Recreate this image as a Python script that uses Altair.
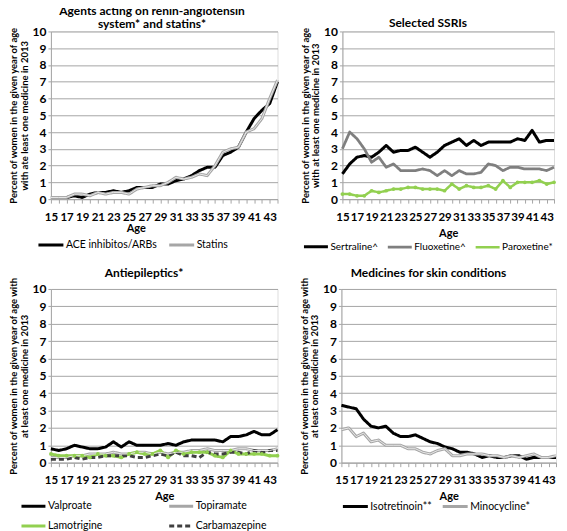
import altair as alt
import pandas as pd

ages = list(range(15, 45))

# Panel 1
p1_names = ["ACE inhibitos/ARBs", "Statins"]
ace = [0.1, 0.1, 0.1, 0.2, 0.1, 0.3, 0.4, 0.4, 0.5, 0.4, 0.5, 0.7, 0.7, 0.7, 0.9,
       0.9, 1.1, 1.2, 1.4, 1.7, 1.9, 1.9, 2.6, 2.8, 3.1, 4.0, 4.8, 5.3, 5.7, 7.0]
statins = [0.1, 0.1, 0.1, 0.3, 0.3, 0.2, 0.4, 0.3, 0.4, 0.4, 0.3, 0.6, 0.7, 0.8, 0.8,
           1.0, 1.3, 1.2, 1.3, 1.5, 1.4, 2.0, 2.8, 3.0, 3.1, 4.0, 4.2, 4.8, 6.0, 7.1]

# Panel 2
p2_names = ["Sertraline^", "Fluoxetine^", "Paroxetine*"]
sertraline = [1.5, 2.1, 2.5, 2.6, 2.5, 2.8, 3.2, 2.8, 2.9, 2.9, 3.1, 2.8, 2.5, 2.8, 3.2,
              3.4, 3.6, 3.2, 3.5, 3.2, 3.4, 3.4, 3.4, 3.4, 3.6, 3.5, 4.1, 3.4, 3.5, 3.5]
fluoxetine = [3.0, 4.0, 3.6, 3.0, 2.2, 2.5, 1.9, 2.1, 1.7, 1.7, 1.7, 1.8, 1.7, 1.4, 1.7,
              1.4, 1.7, 1.5, 1.5, 1.6, 2.1, 2.0, 1.7, 1.9, 1.9, 1.8, 1.8, 1.8, 1.7, 1.9]
paroxetine = [0.3, 0.3, 0.2, 0.2, 0.5, 0.4, 0.5, 0.6, 0.6, 0.7, 0.7, 0.6, 0.6, 0.6, 0.5,
              0.9, 0.6, 0.8, 0.7, 0.7, 0.8, 0.6, 1.1, 0.7, 1.0, 1.0, 1.0, 1.1, 0.9, 1.0]

# Panel 3
p3_names = ["Valproate", "Topiramate", "Lamotrigine", "Carbamazepine"]
valproate = [0.8, 0.7, 0.8, 1.0, 0.9, 0.8, 0.8, 0.9, 1.2, 0.9, 1.2, 1.0, 1.0, 1.0, 1.0,
             1.1, 1.0, 1.2, 1.3, 1.3, 1.3, 1.3, 1.2, 1.5, 1.5, 1.6, 1.8, 1.6, 1.6, 1.9]
topiramate = [0.3, 0.3, 0.3, 0.4, 0.4, 0.5, 0.5, 0.5, 0.6, 0.5, 0.5, 0.6, 0.6, 0.5, 0.6,
              0.5, 0.6, 0.6, 0.7, 0.7, 0.8, 0.7, 0.7, 0.7, 0.8, 0.8, 0.7, 0.7, 0.7, 0.8]
lamotrigine = [0.5, 0.4, 0.4, 0.4, 0.4, 0.3, 0.5, 0.4, 0.4, 0.3, 0.5, 0.6, 0.5, 0.5, 0.7,
               0.3, 0.7, 0.5, 0.6, 0.6, 0.6, 0.4, 0.3, 0.7, 0.5, 0.5, 0.5, 0.5, 0.4, 0.4]
carbamazepine = [0.2, 0.2, 0.2, 0.3, 0.2, 0.3, 0.3, 0.4, 0.4, 0.4, 0.4, 0.3, 0.3, 0.4, 0.5,
                 0.4, 0.6, 0.4, 0.4, 0.3, 0.6, 0.5, 0.5, 0.6, 0.6, 0.5, 0.7, 0.6, 0.7, 0.7]

# Panel 4
p4_names = ["Isotretinoin**", "Minocycline*"]
isotretinoin = [3.3, 3.2, 3.1, 2.5, 2.1, 2.0, 2.1, 1.7, 1.5, 1.5, 1.6, 1.4, 1.2, 1.1, 0.9,
                0.8, 0.6, 0.6, 0.5, 0.3, 0.4, 0.3, 0.3, 0.4, 0.4, 0.2, 0.3, 0.3, 0.3, 0.3]
minocycline = [1.9, 2.0, 1.5, 1.7, 1.2, 1.3, 1.0, 1.0, 1.0, 0.8, 0.8, 0.6, 0.5, 0.7, 0.8,
               0.4, 0.4, 0.5, 0.5, 0.5, 0.4, 0.4, 0.3, 0.4, 0.3, 0.4, 0.5, 0.3, 0.3, 0.4]

FONT = "Lato"
GRID = "#a6a6a6"


def panel(names, values, colors, dashes, widths, doubles, markers, title, ytitle,
          w, h, leg, x_title_pad=4, x_title_x=None, title_dy=0, title_dx=0):
    rows = []
    for n, vals in zip(names, values):
        for a, v in zip(ages, vals):
            rows.append({"age": a, "value": v, "series": n})
    df = pd.DataFrame(rows)
    base = alt.Chart(df)

    xaxis_kw = dict(
        values=ages, labelExpr="datum.value % 2 == 1 ? datum.label : ''",
        labelOverlap=False, labelFlush=False, grid=False, tickSize=4,
        tickColor=GRID, domainColor=GRID, labelFont=FONT, labelFontSize=11.5,
        labelFontWeight="bold", labelColor="black", labelPadding=8,
        title="Age", titleFont=FONT, titleFontSize=11, titleFontWeight="bold",
        titleColor="black", titlePadding=x_title_pad,
    )
    if x_title_x is not None:
        xaxis_kw["titleX"] = x_title_x
    x = alt.X("age:Q", scale=alt.Scale(domain=[15, 44], nice=False, zero=False),
              axis=alt.Axis(**xaxis_kw))
    y = alt.Y("value:Q", scale=alt.Scale(domain=[0, 10], nice=False),
              axis=alt.Axis(values=list(range(11)), grid=True, gridColor=GRID,
                            labelOverlap=False,
                            domainColor=GRID, tickColor=GRID, tickSize=3,
                            labelFont=FONT, labelFontSize=12, labelFontWeight="bold",
                            labelColor="black", labelPadding=2,
                            title=ytitle, titleFont=FONT, titleFontSize=9.5,
                            titleFontWeight="bold", titleColor="black",
                            titleLineHeight=10.5, titlePadding=3))
    legend = alt.Legend(title=None, orient="none", legendX=leg["x"], legendY=leg["y"],
                        direction="horizontal", columns=leg["cols"],
                        symbolType="stroke", symbolSize=leg["ss"],
                        symbolStrokeWidth=3, labelFont=FONT, labelFontSize=leg["fs"],
                        labelColor="black", columnPadding=leg["cp"],
                        rowPadding=leg.get("rp", 0), labelOffset=1, padding=0)
    color = alt.Color("series:N", scale=alt.Scale(domain=names, range=colors),
                      legend=legend)
    dash = alt.StrokeDash("series:N", scale=alt.Scale(domain=names, range=dashes),
                          legend=legend)
    sw = alt.StrokeWidth("series:N", scale=alt.Scale(domain=names, range=widths),
                         legend=None)
    lines = base.mark_line(strokeJoin="round").encode(
        x=x, y=y, color=color, strokeDash=dash, strokeWidth=sw)
    layers = [lines]
    if doubles:
        inner = base.transform_filter(
            alt.FieldOneOfPredicate(field="series", oneOf=doubles)
        ).mark_line(color="#e8e8e8", strokeWidth=1).encode(
            x=x, y=y, detail="series:N")
        layers.append(inner)
    if markers:
        pts = base.transform_filter(
            alt.FieldOneOfPredicate(field="series", oneOf=markers)
        ).mark_circle(color="#92d050", size=14, opacity=1).encode(x=x, y=y)
        layers.append(pts)
    return alt.layer(*layers).properties(
        width=w, height=h,
        title=alt.TitleParams(text=title, font=FONT, fontSize=12, fontWeight="bold",
                              color="black", anchor="middle", frame="bounds",
                              offset=2, lineHeight=13, dy=title_dy, dx=title_dx))


ytitle_a = ["Percent of women in the given year of age",
            "with ate least one medicine in 2013"]
ytitle_b = ["Percent of women in the given year of age",
            "with at least one medicine in 2013"]
ytitle_c = ["Percent of women in the given year of age with",
            "at least one medicine in 2013"]

p1 = panel(p1_names, [ace, statins], ["#000000", "#a6a6a6"], [[1, 0], [1, 0]],
           [3, 3], ["Statins"], [],
           ["Agents acting on renin-angiotensin", "system* and statins*"], ytitle_a,
           227, 168, dict(x=-14, y=200, cols=2, ss=625, cp=5, fs=10.5), x_title_pad=0,
           x_title_x=85, title_dy=8, title_dx=8)
p2 = panel(p2_names, [sertraline, fluoxetine, paroxetine],
           ["#000000", "#7f7f7f", "#92d050"], [[1, 0], [1, 0], [1, 0]],
           [3, 2.5, 2.5], [], ["Paroxetine*"],
           "Selected SSRIs", ytitle_b,
           212, 168, dict(x=-40, y=202, cols=3, ss=576, cp=4, fs=10), x_title_pad=5,
           title_dy=7)
p3 = panel(p3_names, [valproate, topiramate, lamotrigine, carbamazepine],
           ["#000000", "#a6a6a6", "#92d050", "#404040"],
           [[1, 0], [1, 0], [1, 0], [5, 3]],
           [3, 3, 2.5, 2.5], ["Topiramate"], ["Lamotrigine"],
           "Antiepileptics*", ytitle_c,
           227, 174, dict(x=-31, y=204, cols=2, ss=576, cp=60, fs=10.5, rp=-10),
           x_title_pad=4, title_dy=5)
p4 = panel(p4_names, [isotretinoin, minocycline], ["#000000", "#a6a6a6"],
           [[1, 0], [1, 0]], [3, 3], ["Minocycline*"], [],
           "Medicines for skin conditions", ytitle_c,
           215, 174, dict(x=0, y=204, cols=2, ss=625, cp=4, fs=10.5), x_title_pad=4,
           title_dy=5)

indep = dict(color="independent", strokeDash="independent",
             strokeWidth="independent", x="independent", y="independent")
row1 = alt.hconcat(p1, p2, spacing=19).resolve_scale(**indep)
row2 = alt.hconcat(p3, p4, spacing=18).resolve_scale(**indep)
chart = alt.vconcat(row1, row2, spacing=12).resolve_scale(**indep).properties(
    padding={"top": -4, "left": 0, "right": 0, "bottom": -3}
).configure_view(stroke=None).configure(background="white")

chart.save("out.html", embed_options={"renderer": "svg", "actions": False})
